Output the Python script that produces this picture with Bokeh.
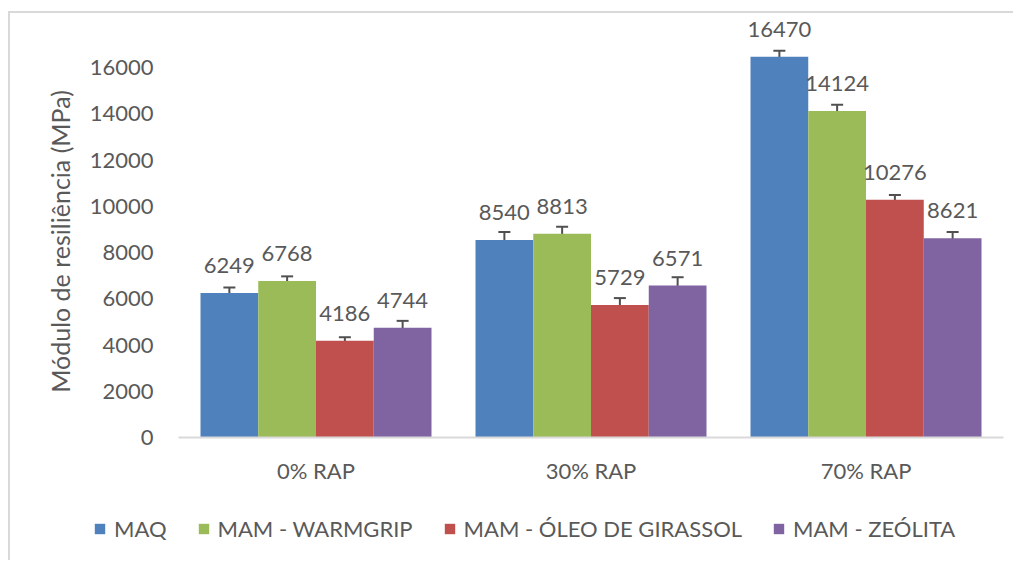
from bokeh.plotting import figure
from bokeh.models import (ColumnDataSource, Range1d, FixedTicker, Whisker, LabelSet,
                          Legend, LegendItem, TeeHead, LinearAxis)
from bokeh.transform import dodge
from bokeh.core.properties import value
from bokeh.embed import file_html
from bokeh.resources import INLINE

categories = ["0% RAP", "30% RAP", "70% RAP"]
series = ["MAQ", "MAM - WARMGRIP", "MAM - ÓLEO DE GIRASSOL", "MAM - ZEÓLITA"]
maq = [6249, 8540, 16470]
warmgrip = [6768, 8813, 14124]
oleo = [4186, 5729, 10276]
zeolita = [4744, 6571, 8621]
maq_err = [240, 345, 250]
warmgrip_err = [200, 300, 270]
oleo_err = [150, 300, 215]
zeolita_err = [300, 360, 265]
y_ticks = [0, 2000, 4000, 6000, 8000, 10000, 12000, 14000, 16000]

values = [maq, warmgrip, oleo, zeolita]
errors = [maq_err, warmgrip_err, oleo_err, zeolita_err]
colors = ["#4F81BD", "#9BBB59", "#C0504D", "#8064A2"]
offsets = [-0.315, -0.105, 0.105, 0.315]
cat_pos = [i + 0.5 for i in range(len(categories))]
FONT = "Lato"
TXT = "#595959"
ERR = "#505050"

p = figure(x_range=Range1d(-0.6109, 3.0436), y_range=Range1d(-5405, 18335),
           width=1005, height=549, output_backend="svg", toolbar_location=None,
           x_axis_location=None, y_axis_location=None, min_border=0)
p.margin = (11, 0, 0, 8)
p.styles = {"border-left": "2px solid #d9d9d9", "border-top": "2px solid #d9d9d9"}
p.outline_line_color = None
p.xgrid.grid_line_color = None
p.ygrid.grid_line_color = None

items = []
for i in range(4):
    vals = values[i]
    errs = errors[i]
    src = ColumnDataSource(dict(
        pos=cat_pos, val=vals,
        upper=[v + e for v, e in zip(vals, errs)],
        lower=[v - e for v, e in zip(vals, errs)],
        label=[str(v) for v in vals]))
    xs = dodge("pos", offsets[i])
    r = p.vbar(x=xs, top="val", width=0.21, source=src, fill_color=colors[i], line_color=None)
    items.append(LegendItem(label=series[i], renderers=[r]))
    w = Whisker(source=src, base=xs, upper="upper", lower="lower",
                line_color=ERR, line_width=2,
                upper_head=TeeHead(size=12, line_color=ERR, line_width=2),
                lower_head=TeeHead(size=12, line_color=ERR, line_width=2))
    p.add_layout(w)
    labels = LabelSet(x=xs, y="val", text="label", source=src, text_align="center",
                      text_baseline="alphabetic", y_offset=20, text_font=value(FONT),
                      text_font_size=value("22px"), text_color=value(TXT))
    p.add_layout(labels)

yaxis = LinearAxis(fixed_location=0, ticker=FixedTicker(ticks=y_ticks), bounds=(0, 16952))
yaxis.axis_line_color = None
yaxis.major_tick_line_color = None
yaxis.minor_tick_line_color = None
yaxis.major_label_standoff = 19
yaxis.major_label_text_font = FONT
yaxis.major_label_text_font_size = "22px"
yaxis.major_label_text_color = TXT
yaxis.axis_label = "Módulo de resiliência (MPa)"
yaxis.axis_label_text_font = FONT
yaxis.axis_label_text_font_size = "25px"
yaxis.axis_label_text_font_style = "normal"
yaxis.axis_label_text_color = TXT
yaxis.axis_label_standoff = 12
p.add_layout(yaxis, "left")

xaxis = LinearAxis(fixed_location=0, ticker=FixedTicker(ticks=cat_pos), bounds=(0, 3),
                   major_label_overrides={pos: c for pos, c in zip(cat_pos, categories)})
xaxis.axis_line_color = "#d9d9d9"
xaxis.axis_line_width = 2
xaxis.major_tick_line_color = None
xaxis.minor_tick_line_color = None
xaxis.major_label_standoff = 13
xaxis.major_label_text_font = FONT
xaxis.major_label_text_font_size = "22px"
xaxis.major_label_text_color = TXT
p.add_layout(xaxis, "below")

legend = Legend(items=items, orientation="horizontal", location=(83, 20),
                glyph_width=13, glyph_height=13, label_standoff=8, spacing=30,
                padding=0, margin=0, border_line_color=None, background_fill_alpha=0,
                label_text_font=FONT, label_text_font_size="22px", label_text_color=TXT)
p.add_layout(legend)

open("out.html", "w").write(file_html(p, INLINE))
